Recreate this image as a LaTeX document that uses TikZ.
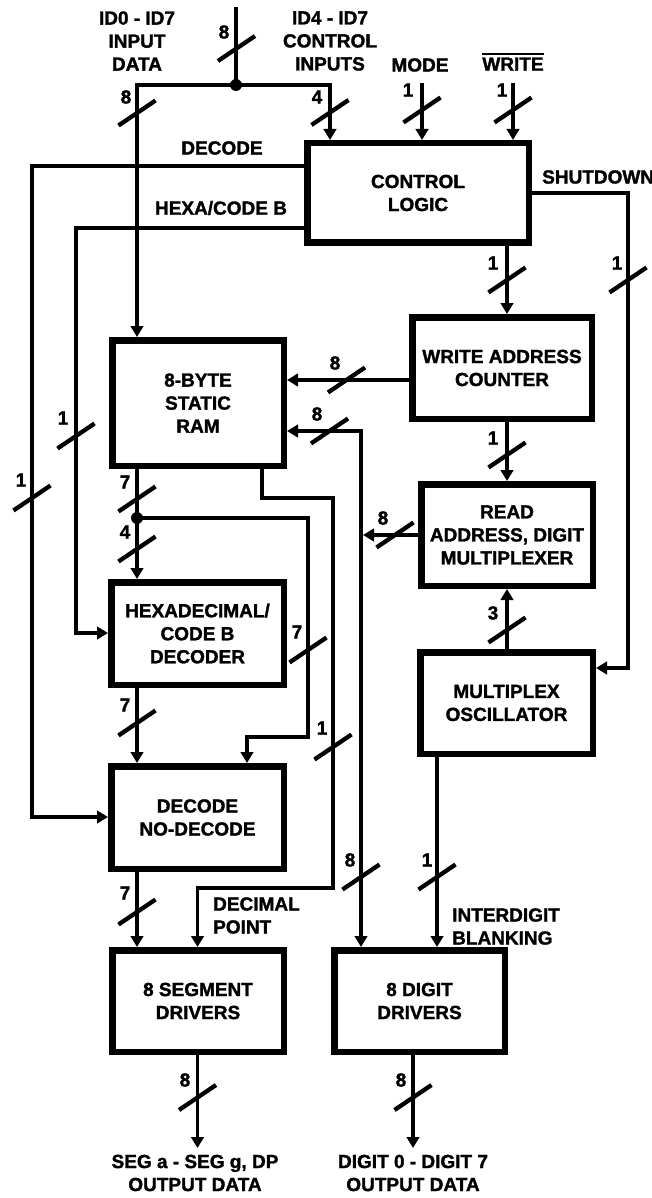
\documentclass[tikz,border=0pt]{standalone}
\usepackage{fontspec}
\setmainfont{Liberation Sans}[BoldFeatures={FakeBold=1.5}]
\usetikzlibrary{arrows.meta}
\newcommand\dgfont{\fontsize{19}{23}\selectfont\bfseries}
\begin{document}
\begin{tikzpicture}[x=1pt,y=-1pt,
  box/.style={draw,line width=6.5pt,align=center,font=\dgfont,inner sep=0pt},
  wire/.style={line width=3.9pt},
  arr/.style={wire,-{Triangle[length=11pt,width=12.5pt]}},
  darr/.style={wire,{Triangle[length=11pt,width=12.5pt]}-{Triangle[length=11pt,width=12.5pt]}},
  lab/.style={font=\dgfont,inner sep=0pt,align=center},
  bus/.pic={\draw[line width=4.3pt] (-18.5,12.5) -- (18.5,-12.5);},
  dot/.style={circle,fill,inner sep=0pt,minimum size=12pt}]
\useasboundingbox[fill=white] (0,0) rectangle (652,1198);

% boxes
\node[box,minimum width=221.5pt,minimum height=99.5pt] (ctrl) at (418,193) {CONTROL\\LOGIC};
\node[box,minimum width=171.5pt,minimum height=125.5pt] (ram) at (198,403) {8-BYTE\\STATIC\\RAM};
\node[box,minimum width=179.5pt,minimum height=101.5pt] (wac) at (502,368) {WRITE ADDRESS\\COUNTER};
\node[box,minimum width=171.5pt,minimum height=101.5pt] (rd) at (507,535) {READ\\ADDRESS, DIGIT\\MULTIPLEXER};
\node[box,minimum width=172.5pt,minimum height=101.5pt] (osc) at (506.5,703) {MULTIPLEX\\OSCILLATOR};
\node[box,minimum width=172.5pt,minimum height=102.5pt] (hex) at (197.5,633.5) {HEXADECIMAL/\\CODE B\\DECODER};
\node[box,minimum width=172.5pt,minimum height=102.5pt] (dec) at (197.5,817.5) {DECODE\\NO-DECODE};
\node[box,minimum width=171.5pt,minimum height=101.5pt] (seg) at (198,1001) {8 SEGMENT\\DRIVERS};
\node[box,minimum width=170.5pt,minimum height=101.5pt] (dig) at (419.5,1001) {8 DIGIT\\DRIVERS};

% coordinates
\coordinate (tin) at (236,7);
\node[dot] (j1) at (236,85) {};
\coordinate (cL) at (137,85);
\coordinate (cR) at (330,85);
\coordinate (mo) at (422,83);
\coordinate (wr) at (513,83);
\coordinate (dA) at (32,166);
\coordinate (dB) at (32,817);
\coordinate (hA) at (76,228);
\coordinate (hB) at (76,633);
\coordinate (sA) at (628,193);
\coordinate (sB) at (628,668);
\coordinate (cA) at (507,0);
\coordinate (w1) at (350,380);
\coordinate (v1) at (361,431);
\coordinate (r1) at (363,535);
\coordinate (cB) at (437,0);
\node[dot] (j2) at (137,518) {};
\coordinate (b1) at (308,518);
\coordinate (b2) at (308,737);
\coordinate (b3) at (247,737);
\coordinate (p1) at (262,498);
\coordinate (p2) at (333,498);
\coordinate (p3) at (333,888);
\coordinate (p4) at (197.5,888);
\coordinate (o1) at (197.5,1148);
\coordinate (o2) at (413,1148);

% connectors
\draw[wire] (tin) -- (j1.center);
\draw[arr] (j1.center) -- (cL) -- (cL |- ram.north);
\draw[arr] (j1.center) -- (cR) -- (cR |- ctrl.north);
\draw[arr] (mo) -- (mo |- ctrl.north);
\draw[arr] (wr) -- (wr |- ctrl.north);
\draw[arr] (ctrl.west |- dA) -- (dA) -- (dB) -- (dB -| dec.west);
\draw[arr] (ctrl.west |- hA) -- (hA) -- (hB) -- (hB -| hex.west);
\draw[arr] (ctrl.east |- sA) -- (sA) -- (sB) -- (sB -| osc.east);
\draw[arr] (ctrl.south -| cA) -- (wac.north -| cA);
\draw[arr] (wac.west |- w1) -- (ram.east |- w1);
\draw[darr] (ram.east |- v1) -- (v1) -- (v1 |- dig.north);
\draw[arr] (rd.west |- r1) -- (r1);
\draw[arr] (wac.south -| cA) -- (rd.north -| cA);
\draw[arr] (osc.north -| cA) -- (rd.south -| cA);
\draw[arr] (osc.south -| cB) -- (dig.north -| cB);
\draw[arr] (ram.south -| j2) -- (hex.north -| j2);
\draw[arr] (j2.center) -- (b1) -- (b2) -- (b3) -- (b3 |- dec.north);
\draw[arr] (ram.south -| p1) -- (p1) -- (p2) -- (p3) -- (p4) -- (p4 |- seg.north);
\draw[arr] (hex.south -| j2) -- (dec.north -| j2);
\draw[arr] (dec.south -| j2) -- (seg.north -| j2);
\draw[arr] (seg.south -| o1) -- (o1);
\draw[arr] (dig.south -| o2) -- (o2);

% bus slashes
\pic at (236.5,48.5) {bus};
\pic at (137,113) {bus};
\pic at (330,112.5) {bus};
\pic at (422,110) {bus};
\pic at (513,110) {bus};
\pic at (507,280) {bus};
\pic at (628,280) {bus};
\pic at (346.5,380) {bus};
\pic at (329.5,431) {bus};
\pic at (507,455) {bus};
\pic at (395,535) {bus};
\pic at (507,630) {bus};
\pic at (32,498) {bus};
\pic at (76,436) {bus};
\pic at (137,499) {bus};
\pic at (137,549) {bus};
\pic at (308,650) {bus};
\pic at (137,723) {bus};
\pic at (333,747) {bus};
\pic at (137,912) {bus};
\pic at (361,877) {bus};
\pic at (437,877) {bus};
\pic at (197.5,1097.5) {bus};
\pic at (413,1097.5) {bus};

% bus widths
\node[lab] (n1) at (224,32) {8};
\node[lab] (n2) at (126,97) {8};
\node[lab] (n3) at (317,97) {4};
\node[lab] (n4) at (408,90) {1};
\node[lab] (n5) at (502,90) {1};
\node[lab] (n6) at (493,263) {1};
\node[lab] (n7) at (617,263) {1};
\node[lab] (n8) at (335,363) {8};
\node[lab] (n9) at (317,414) {8};
\node[lab] (n10) at (493,438) {1};
\node[lab] (n11) at (383,518) {8};
\node[lab] (n12) at (493,613) {3};
\node[lab] (n13) at (21,480) {1};
\node[lab] (n14) at (63,418) {1};
\node[lab] (n15) at (125,482) {7};
\node[lab] (n16) at (125,532) {4};
\node[lab] (n17) at (297,632) {7};
\node[lab] (n18) at (125,705) {7};
\node[lab] (n19) at (322,728) {1};
\node[lab] (n20) at (125,893) {7};
\node[lab] (n21) at (350,860) {8};
\node[lab] (n22) at (427,860) {1};
\node[lab] (n23) at (185,1080) {8};
\node[lab] (n24) at (401,1080) {8};

% texts
\node[lab] (t1) at (137,41) {ID0 - ID7\\INPUT\\DATA};
\node[lab] (t2) at (330,41) {ID4 - ID7\\CONTROL\\INPUTS};
\node[lab] (t3) at (420,65) {MODE};
\node[lab] (t4) at (513,62) {\vbox{\hrule height 1.8pt\kern 2.5pt\hbox{WRITE}}};
\node[lab] (t5) at (222,148) {DECODE};
\node[lab] (t6) at (221,208) {HEXA/CODE B};
\node[lab,anchor=west] (t7) at (542,177) {SHUTDOWN};
\node[lab,anchor=west,align=left] (t8) at (213,915.5) {DECIMAL\\POINT};
\node[lab,anchor=west,align=left] (t9) at (452,926.5) {INTERDIGIT\\BLANKING};
\node[lab] (t10) at (195,1173) {SEG a - SEG g, DP\\OUTPUT DATA};
\node[lab] (t11) at (413,1173) {DIGIT 0 - DIGIT 7\\OUTPUT DATA};
\end{tikzpicture}
\end{document}
